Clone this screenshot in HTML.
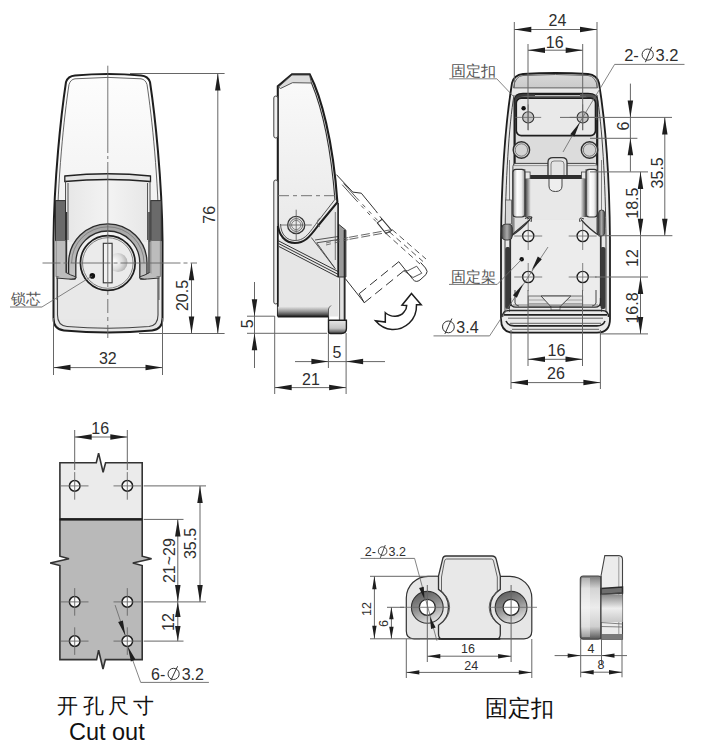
<!DOCTYPE html>
<html><head><meta charset="utf-8"><style>
html,body{margin:0;padding:0;background:#fff;width:704px;height:753px;overflow:hidden}
svg{display:block}
</style></head><body>
<svg width="704" height="753" viewBox="0 0 704 753">
<defs>
<linearGradient id="gBody" x1="0" y1="0" x2="0" y2="1"><stop offset="0" stop-color="#fdfdfd"/><stop offset="0.6" stop-color="#f0f0f0"/><stop offset="1" stop-color="#e6e6e6"/></linearGradient>
<linearGradient id="gPanel" x1="0" y1="0" x2="1" y2="0"><stop offset="0" stop-color="#e6e6e6"/><stop offset="0.5" stop-color="#f3f3f3"/><stop offset="1" stop-color="#e6e6e6"/></linearGradient>
<linearGradient id="gSideH" x1="0" y1="0" x2="0" y2="1"><stop offset="0" stop-color="#fafafa"/><stop offset="1" stop-color="#e8e8e8"/></linearGradient>
<linearGradient id="gDarkV" x1="0" y1="0" x2="0" y2="1"><stop offset="0" stop-color="#e4e4e4"/><stop offset="0.45" stop-color="#9a9a9a"/><stop offset="1" stop-color="#262626"/></linearGradient>
<linearGradient id="gFoot" x1="0" y1="0" x2="0" y2="1"><stop offset="0" stop-color="#e6e6e6"/><stop offset="0.6" stop-color="#c4c4c4"/><stop offset="1" stop-color="#444"/></linearGradient>
<radialGradient id="gBump" cx="0.3" cy="0.45" r="0.75"><stop offset="0" stop-color="#ffffff"/><stop offset="0.55" stop-color="#dedede"/><stop offset="1" stop-color="#a8a8a8"/></radialGradient>
<linearGradient id="gShoe" x1="0" y1="0" x2="0" y2="1"><stop offset="0" stop-color="#a4a4a4"/><stop offset="1" stop-color="#c6c6c6"/></linearGradient>
<linearGradient id="gCyl" x1="0" y1="0" x2="1" y2="0"><stop offset="0" stop-color="#6e6e6e"/><stop offset="0.3" stop-color="#d6d6d6"/><stop offset="0.75" stop-color="#e2e2e2"/><stop offset="1" stop-color="#7a7a7a"/></linearGradient>
<linearGradient id="gCyl2" x1="0" y1="0" x2="1" y2="0"><stop offset="0" stop-color="#5a5a5a"/><stop offset="0.25" stop-color="#cfcfcf"/><stop offset="0.7" stop-color="#dedede"/><stop offset="1" stop-color="#8a8a8a"/></linearGradient>
<linearGradient id="gHinge" x1="0" y1="0" x2="1" y2="0"><stop offset="0" stop-color="#9a9a9a"/><stop offset="0.35" stop-color="#ffffff"/><stop offset="0.7" stop-color="#f0f0f0"/><stop offset="1" stop-color="#9a9a9a"/></linearGradient>
<linearGradient id="gShadowL" x1="0" y1="0" x2="1" y2="0"><stop offset="0" stop-color="#333"/><stop offset="1" stop-color="#e6e6e6"/></linearGradient>
<linearGradient id="gShadowR" x1="1" y1="0" x2="0" y2="0"><stop offset="0" stop-color="#333"/><stop offset="1" stop-color="#e6e6e6"/></linearGradient>
<linearGradient id="gRing" x1="0.3" y1="0" x2="0.7" y2="1"><stop offset="0" stop-color="#5e5e5e"/><stop offset="0.45" stop-color="#8e8e8e"/><stop offset="1" stop-color="#e8e8e8"/></linearGradient>
<linearGradient id="gTop" x1="0" y1="0" x2="0" y2="1"><stop offset="0" stop-color="#d8d8d8"/><stop offset="1" stop-color="#cacaca"/></linearGradient>
<linearGradient id="gWheel" x1="0" y1="0" x2="1" y2="0"><stop offset="0" stop-color="#555"/><stop offset="0.5" stop-color="#aaa"/><stop offset="1" stop-color="#444"/></linearGradient>
<linearGradient id="gCylV" x1="0" y1="0" x2="0" y2="1"><stop offset="0" stop-color="#444" stop-opacity="0.8"/><stop offset="0.1" stop-color="#888" stop-opacity="0.2"/><stop offset="0.85" stop-color="#888" stop-opacity="0.1"/><stop offset="1" stop-color="#333" stop-opacity="0.8"/></linearGradient>
<linearGradient id="gBaseV" x1="0" y1="0" x2="0" y2="1"><stop offset="0" stop-color="#7a7a7a"/><stop offset="0.2" stop-color="#d4d4d4"/><stop offset="0.5" stop-color="#ececec"/><stop offset="0.8" stop-color="#cfcfcf"/><stop offset="1" stop-color="#555"/></linearGradient>
<linearGradient id="gMidV" x1="0" y1="0" x2="0" y2="1"><stop offset="0" stop-color="#8a8a8a"/><stop offset="0.5" stop-color="#eeeeee"/><stop offset="1" stop-color="#c8c8c8"/></linearGradient>
</defs>
<path d="M 66,82 C 61,115 54,180 53.5,240 L 53.5,318 Q 53.5,329.5 64,330.5 Q 108,334.5 152,330.5 Q 162.5,329.5 162.5,318 L 162.5,240 C 162,180 155,115 150,82 Q 148,76 141,75.5 Q 108,72.5 75,75.5 Q 68,76 66,82 Z" fill="url(#gBody)" stroke="#1e1e1e" stroke-width="2.0" />
<path d="M 75,78.8 Q 108,76 141,78.8 Q 145.5,79.5 147,84.5 C 152,117 158.5,180 159,240 L 159,300" fill="none" stroke="#555" stroke-width="0.9" />
<path d="M 75,78.8 Q 70.5,79.5 69,84.5 C 64,117 57.5,180 57,240 L 57,300" fill="none" stroke="#555" stroke-width="0.9" />
<rect x="65.00" y="180.00" width="85.50" height="62.00" rx="0" fill="url(#gPanel)" stroke="none" stroke-width="1" />
<path d="M 64.8,176 Q 108,171.5 150.5,176 L 150.5,181.5 Q 108,177.5 64.8,181.5 Z" fill="#e4e4e4" stroke="#222" stroke-width="1.3" />
<path d="M 65.5,181 L 65.5,242 M 68,183 L 68,240 M 150,181 L 150,242 M 147.5,183 L 147.5,240" fill="none" stroke="#444" stroke-width="0.9" />
<rect x="55.50" y="200.60" width="10.00" height="40.00" rx="0" fill="#6a6a6a" stroke="#2e2e2e" stroke-width="1" />
<rect x="150.80" y="200.60" width="10.50" height="40.00" rx="0" fill="#6a6a6a" stroke="#2e2e2e" stroke-width="1" />
<rect x="56.00" y="240.50" width="9.50" height="36.00" rx="0" fill="#bcbcbc" stroke="#666" stroke-width="0.8" />
<rect x="150.80" y="240.50" width="9.50" height="36.00" rx="0" fill="#bcbcbc" stroke="#666" stroke-width="0.8" />
<line x1="66.50" y1="212.00" x2="66.50" y2="274.00" stroke="#333" stroke-width="1.4" />
<line x1="149.00" y1="212.00" x2="149.00" y2="274.00" stroke="#333" stroke-width="1.4" />
<rect x="57.50" y="277.50" width="100.50" height="42.00" rx="0" fill="#e8e8e8" stroke="none" stroke-width="1" />
<path d="M 57.5,277.5 L 57.5,315 Q 57.5,325.5 67,326.5 Q 108,330 149,326.5 Q 158,325.5 158,315 L 158,277.5" fill="none" stroke="#444" stroke-width="1.1" />
<path d="M 57.5,277.5 L 70,277.5 M 145.5,277.5 L 158,277.5" fill="none" stroke="#666" stroke-width="0.9" />
<path d="M 68.6,277.5 L 68.6,263.0 A 39.2 39.2 0 0 1 147.0,263.0 L 147.0,277.5 Q 147.0,279.0 144.0,279.0 L 140.8,279.0 Q 139.8,279.0 139.8,276.0 L 139.8,263.0 A 32.0 32.0 0 0 0 75.8,263.0 L 75.8,276.0 Q 75.8,279.0 74.8,279.0 L 71.6,279.0 Q 68.6,279.0 68.6,277.5 Z" fill="url(#gShoe)" stroke="#2a2a2a" stroke-width="1.3" />
<path d="M 71.6,263.0 A 36.2 36.2 0 0 1 144.0,263.0" fill="none" stroke="#777" stroke-width="0.8" />
<path d="M 66,272.5 Q 70,275 76.3,277 Q 75,279.5 68,279 L 56.3,278" fill="#bdbdbd" stroke="#333" stroke-width="1" />
<path d="M 149.6,272.5 Q 145.6,275 139.3,277 Q 140.6,279.5 147.6,279 L 159.3,278" fill="#bdbdbd" stroke="#333" stroke-width="1" />
<circle cx="107.80" cy="263.00" r="27.40" fill="#ebebeb" stroke="#1e1e1e" stroke-width="1.7" />
<circle cx="107.80" cy="263.00" r="25.30" fill="none" stroke="#666" stroke-width="0.8" />
<circle cx="118.00" cy="262.50" r="9.50" fill="url(#gBump)" stroke="none" stroke-width="1" />
<rect x="103.30" y="243.30" width="8.80" height="39.50" rx="0" fill="#f2f2f2" stroke="#333" stroke-width="1.1" />
<circle cx="92.30" cy="275.90" r="2.80" fill="#111" stroke="none" stroke-width="1" />
<line x1="107.80" y1="65.70" x2="107.80" y2="153.00" stroke="#666666" stroke-width="0.9" />
<line x1="107.80" y1="156.00" x2="107.80" y2="159.00" stroke="#666666" stroke-width="0.9" />
<line x1="107.80" y1="162.00" x2="107.80" y2="287.00" stroke="#666666" stroke-width="0.9" />
<line x1="107.80" y1="291.00" x2="107.80" y2="338.00" stroke="#666666" stroke-width="0.9" stroke-dasharray="4,4,14,4" />
<line x1="42.50" y1="263.00" x2="197.00" y2="263.00" stroke="#666666" stroke-width="0.9" stroke-dasharray="18,3,4,3,40,3,4,3,60,3,4,3,100" />
<line x1="92.30" y1="275.90" x2="41.90" y2="307.00" stroke="#666666" stroke-width="0.8" />
<line x1="41.90" y1="307.00" x2="10.00" y2="307.00" stroke="#666666" stroke-width="0.9" />
<text x="26.00" y="298.50" font-family="Liberation Serif" font-size="15" fill="#555" text-anchor="middle" dominant-baseline="central" >锁芯</text>
<line x1="130.00" y1="73.50" x2="224.60" y2="73.50" stroke="#666666" stroke-width="1.0" />
<line x1="139.00" y1="333.50" x2="224.60" y2="333.50" stroke="#666666" stroke-width="1.0" />
<line x1="217.80" y1="73.50" x2="217.80" y2="333.50" stroke="#666666" stroke-width="1.0" />
<polygon points="217.80,73.50 220.55,90.50 215.05,90.50" fill="#1e1e1e"/>
<polygon points="217.80,333.50 215.05,316.50 220.55,316.50" fill="#1e1e1e"/>
<text x="209.30" y="214.80" font-family="Liberation Sans" font-size="16" fill="#2e2e2e" text-anchor="middle" dominant-baseline="central" transform="rotate(-90 209.30 214.80)" >76</text>
<line x1="191.50" y1="263.20" x2="191.50" y2="333.50" stroke="#666666" stroke-width="1.0" />
<polygon points="191.50,263.20 194.25,280.20 188.75,280.20" fill="#1e1e1e"/>
<polygon points="191.50,333.50 188.75,316.50 194.25,316.50" fill="#1e1e1e"/>
<text x="182.00" y="295.50" font-family="Liberation Sans" font-size="16" fill="#2e2e2e" text-anchor="middle" dominant-baseline="central" transform="rotate(-90 182.00 295.50)" >20.5</text>
<line x1="53.50" y1="318.00" x2="53.50" y2="375.00" stroke="#666666" stroke-width="1.0" />
<line x1="162.50" y1="318.00" x2="162.50" y2="375.00" stroke="#666666" stroke-width="1.0" />
<line x1="53.50" y1="367.60" x2="162.50" y2="367.60" stroke="#666666" stroke-width="1.0" />
<polygon points="53.50,367.60 70.50,364.85 70.50,370.35" fill="#1e1e1e"/>
<polygon points="162.50,367.60 145.50,370.35 145.50,364.85" fill="#1e1e1e"/>
<text x="107.80" y="358.50" font-family="Liberation Sans" font-size="16" fill="#2e2e2e" text-anchor="middle" dominant-baseline="central" >32</text>
<path d="M 277.8,240 L 338.1,203 L 338.1,316.5 L 277.8,316.5 Z" fill="#e6e6e6" stroke="none" stroke-width="0" />
<path d="M 277.8,222 L 277.8,86.3 L 292,74.2 L 309.7,74.2 C 321,96 333,140 337.4,202.2 L 317.8,226 C 309,238 304,243 295,243 C 286,243 277.8,236 277.8,222 Z" fill="url(#gSideH)" stroke="#1e1e1e" stroke-width="2.1" />
<path d="M 278.5,87 L 292,75 L 309.5,75 L 311.5,83 L 292.5,82.7 L 280.5,88.5 Z" fill="#dcdcdc" stroke="#444" stroke-width="0.9" />
<path d="M 311.5,83 C 322,108 331,150 335,200" fill="none" stroke="#333" stroke-width="1.1" />
<path d="M 280.5,224 C 281,235 287,240.5 295,240.5 C 303,240.5 307.5,236 315.5,224.5 L 334.5,200" fill="none" stroke="#444" stroke-width="0.9" />
<rect x="273.80" y="96.00" width="4.00" height="42.00" rx="2" fill="#efefef" stroke="#444" stroke-width="1" />
<rect x="273.80" y="180.00" width="4.00" height="124.00" rx="2" fill="#efefef" stroke="#444" stroke-width="1" />
<line x1="278.00" y1="195.70" x2="337.00" y2="195.70" stroke="#666666" stroke-width="0.9" stroke-dasharray="11,4,4,4" />
<circle cx="296.20" cy="225.00" r="8.60" fill="none" stroke="#333" stroke-width="1.3" />
<circle cx="296.20" cy="225.00" r="6.40" fill="none" stroke="#555" stroke-width="0.9" />
<circle cx="296.20" cy="225.00" r="4.60" fill="none" stroke="#666" stroke-width="0.8" />
<line x1="280.60" y1="225.00" x2="311.80" y2="225.00" stroke="#666666" stroke-width="0.9" />
<line x1="296.20" y1="209.70" x2="296.20" y2="240.90" stroke="#666666" stroke-width="0.9" />
<path d="M 320,218 A 5 5 0 0 0 320,227" fill="none" stroke="#666" stroke-width="0.8" />
<line x1="277.80" y1="226.00" x2="277.80" y2="316.50" stroke="#1e1e1e" stroke-width="1.7" />
<path d="M 277.8,240.5 L 340.6,272.8 M 278.5,243.5 L 340.6,275.6 M 279,246.5 L 340.6,278.4" fill="none" stroke="#333" stroke-width="1.0" />
<path d="M 311.3,237.5 L 335.2,268.6 M 316.7,242.8 L 335.2,268.6 M 316.7,242.8 L 345,238.5 M 315,240 L 345,235.5" fill="none" stroke="#444" stroke-width="0.9" />
<rect x="277.80" y="306.70" width="51.00" height="10.00" rx="0" fill="url(#gDarkV)" stroke="none" stroke-width="1" />
<path d="M 328.5,316.6 L 328.5,309 Q 329,307 331,305.5" fill="none" stroke="#555" stroke-width="0.9" />
<line x1="277.80" y1="316.60" x2="328.50" y2="316.60" stroke="#1e1e1e" stroke-width="1.8" />
<rect x="338.50" y="277.00" width="7.50" height="45.00" rx="0" fill="#e2e2e2" stroke="none" stroke-width="1" />
<path d="M 338.5,224.2 L 345.9,230.2 L 345.9,277 L 338.5,277 Z" fill="#9a9a9a" stroke="#333" stroke-width="1" stroke-linejoin="miter"/>
<path d="M 338.1,203 L 338.1,277" fill="none" stroke="#1e1e1e" stroke-width="1.6" />
<line x1="339.60" y1="277.00" x2="339.60" y2="320.00" stroke="#555" stroke-width="0.9" />
<line x1="344.60" y1="230.00" x2="344.60" y2="322.00" stroke="#2a2a2a" stroke-width="1.8" />
<line x1="335.30" y1="212.00" x2="335.30" y2="260.00" stroke="#555" stroke-width="0.8" />
<path d="M 328.5,320.2 L 346.4,320.2 L 346.4,328.5 Q 346.4,333.5 341.4,333.5 L 330.5,333.5 Q 328.5,333.5 328.5,331.5 Z" fill="url(#gFoot)" stroke="#1e1e1e" stroke-width="1.4" />
<line x1="328.50" y1="316.60" x2="328.50" y2="320.20" stroke="#333" stroke-width="1.2" />
<path d="M 336.4,174.6 L 352.8,192.1 L 361.3,193.2 L 375.7,210.7" fill="none" stroke="#333" stroke-width="1" />
<line x1="375.70" y1="210.70" x2="382.00" y2="219.20" stroke="#333" stroke-width="1" stroke-dasharray="3,4,4,3" />
<path d="M 342.2,184.7 L 355,199 M 343.6,183.4 L 356.4,197.7" fill="none" stroke="#444" stroke-width="0.9" />
<path d="M 355,199 L 377.3,222.9 M 356.4,197.7 L 378.7,221.6" fill="none" stroke="#444" stroke-width="0.9" stroke-dasharray="4,5"/>
<path d="M 377.3,222.9 L 382.1,219.2 L 391.6,230.4 L 386,233.5 Z" fill="none" stroke="#333" stroke-width="1.1" />
<path d="M 349.1,237.3 L 390.6,229.8 M 349.5,239.3 L 391,231.8" fill="none" stroke="#555" stroke-width="0.9" stroke-dasharray="9,3"/>
<path d="M 326,243 L 349.1,237.3 M 326,245 L 349.5,239.3" fill="none" stroke="#555" stroke-width="0.8" stroke-dasharray="5,4"/>
<path d="M 386,233.5 L 420,264 M 389,231.5 L 423,261.5 M 392,229.5 L 426,259" fill="none" stroke="#444" stroke-width="0.9" stroke-dasharray="6,4"/>
<path d="M 345.1,278.4 L 364.3,302.7 L 359.2,293.7" fill="none" stroke="#333" stroke-width="1" />
<path d="M 359.2,293.7 L 398.8,261.7 M 364.3,302.7 L 404,270.7" fill="none" stroke="#333" stroke-width="1" stroke-dasharray="9,5"/>
<path d="M 398.8,261.7 L 413,279.5 Q 416,283 420,280 L 426,274.5 Q 428.5,271.5 425.5,268 L 420.6,262.5" fill="none" stroke="#333" stroke-width="1" />
<path d="M 404,270.7 L 407.8,270.7 L 416.7,266.2 L 421.8,273.2 L 413,277.5 Z" fill="none" stroke="#444" stroke-width="0.9" />
<path d="M 411.5,293.5 L 421.2,304.8 L 416.5,304.8 C 417,320 405,330 392,329.5 C 385,329 379,325 375.5,320.8 L 385.3,322.1 L 385.3,312.7 C 391,317.5 400,317.5 404,312 C 406,310 406.7,307 406.7,305.5 L 402,305.2 Z" fill="#fff" stroke="#1e1e1e" stroke-width="1.5" />
<line x1="247.00" y1="316.20" x2="274.70" y2="316.20" stroke="#666666" stroke-width="1.0" />
<line x1="247.00" y1="333.30" x2="327.00" y2="333.30" stroke="#666666" stroke-width="1.0" />
<line x1="254.50" y1="282.00" x2="254.50" y2="368.00" stroke="#666666" stroke-width="1.0" />
<polygon points="254.50,316.20 251.75,299.20 257.25,299.20" fill="#1e1e1e"/>
<polygon points="254.50,333.30 257.25,350.30 251.75,350.30" fill="#1e1e1e"/>
<text x="247.30" y="323.70" font-family="Liberation Sans" font-size="16" fill="#2e2e2e" text-anchor="middle" dominant-baseline="central" transform="rotate(-90 247.30 323.70)" >5</text>
<line x1="328.40" y1="333.00" x2="328.40" y2="368.00" stroke="#666666" stroke-width="1.0" />
<line x1="346.10" y1="333.00" x2="346.10" y2="394.00" stroke="#666666" stroke-width="1.0" />
<line x1="295.00" y1="361.60" x2="385.00" y2="361.60" stroke="#666666" stroke-width="1.0" />
<polygon points="328.40,361.60 311.40,364.35 311.40,358.85" fill="#1e1e1e"/>
<polygon points="346.10,361.60 363.10,358.85 363.10,364.35" fill="#1e1e1e"/>
<text x="337.00" y="352.50" font-family="Liberation Sans" font-size="16" fill="#2e2e2e" text-anchor="middle" dominant-baseline="central" >5</text>
<line x1="274.70" y1="316.00" x2="274.70" y2="394.00" stroke="#666666" stroke-width="1.0" />
<line x1="274.70" y1="387.60" x2="346.10" y2="387.60" stroke="#666666" stroke-width="1.0" />
<polygon points="274.70,387.60 291.70,384.85 291.70,390.35" fill="#1e1e1e"/>
<polygon points="346.10,387.60 329.10,390.35 329.10,384.85" fill="#1e1e1e"/>
<text x="311.00" y="379.00" font-family="Liberation Sans" font-size="16" fill="#2e2e2e" text-anchor="middle" dominant-baseline="central" >21</text>
<path d="M 512,83 C 506,120 501.5,180 501,240 L 501,319 Q 501,332.7 514,332.7 L 597,332.7 Q 610,332.7 610,319 L 610,240 C 609.5,180 605,120 599,83 Q 597,75 588,74 Q 555.5,72 523,74 Q 514,75 512,83 Z" fill="#e9e9e9" stroke="#1e1e1e" stroke-width="1.8" />
<path d="M 513.5,87.9 Q 515,76 523,75.5 Q 555.5,73.5 588,75.5 Q 596,76 597.5,87.9 Z" fill="url(#gTop)" stroke="#555" stroke-width="0.9" />
<path d="M 514,95 C 509,125 505.5,180 505,240 L 505,312" fill="none" stroke="#444" stroke-width="1" />
<path d="M 597,95 C 602,125 605.5,180 606,240 L 606,312" fill="none" stroke="#444" stroke-width="1" />
<path d="M 509.5,160 L 509.5,312 M 601.5,160 L 601.5,312" fill="none" stroke="#666" stroke-width="0.8" />
<path d="M 514.6,240 L 514.6,101 Q 514.6,93.9 523,93.9 L 588,93.9 Q 597.2,93.9 597.2,101 L 597.2,240" fill="#dcdcdc" stroke="#1e1e1e" stroke-width="2.2" />
<path d="M 514.6,120 L 514.6,101 Q 514.6,93.9 523,93.9 L 535,93.9 L 535,97 Q 520,97 517.5,104 L 517.5,120 Z" fill="#3a3a3a" stroke="none" stroke-width="0" />
<path d="M 597.2,120 L 597.2,101 Q 597.2,93.9 589,93.9 L 580,93.9 L 580,96.5 Q 593,97 594.5,104 L 594.5,120 Z" fill="#555" stroke="none" stroke-width="0" />
<path d="M 517,100 Q 520,96.5 528,96.5 L 586,96.5" fill="none" stroke="#666" stroke-width="1.6" />
<rect x="516.30" y="98.10" width="79.20" height="37.50" rx="5" fill="#e9e9e9" stroke="#1e1e1e" stroke-width="1.6" />
<circle cx="528.20" cy="117.40" r="5.60" fill="#c6c6c6" stroke="#333" stroke-width="1.1" />
<line x1="515.20" y1="117.40" x2="541.20" y2="117.40" stroke="#666666" stroke-width="0.8" />
<line x1="528.20" y1="104.40" x2="528.20" y2="130.40" stroke="#666666" stroke-width="0.8" />
<circle cx="582.70" cy="117.40" r="5.60" fill="#c6c6c6" stroke="#333" stroke-width="1.1" />
<line x1="569.70" y1="117.40" x2="595.70" y2="117.40" stroke="#666666" stroke-width="0.8" />
<line x1="582.70" y1="104.40" x2="582.70" y2="130.40" stroke="#666666" stroke-width="0.8" />
<circle cx="523.60" cy="108.30" r="2.20" fill="#111" stroke="none" stroke-width="1" />
<circle cx="521.40" cy="150.00" r="8.20" fill="#d4d4d4" stroke="#2e2e2e" stroke-width="1.4" />
<circle cx="521.40" cy="150.00" r="6.20" fill="none" stroke="#666" stroke-width="0.8" />
<circle cx="589.50" cy="150.00" r="8.20" fill="#d4d4d4" stroke="#2e2e2e" stroke-width="1.4" />
<circle cx="589.50" cy="150.00" r="6.20" fill="none" stroke="#666" stroke-width="0.8" />
<rect x="512.90" y="163.40" width="84.30" height="80.00" rx="3" fill="#e2e2e2" stroke="#444" stroke-width="1" />
<line x1="514.00" y1="165.60" x2="596.00" y2="165.60" stroke="#777" stroke-width="0.7" />
<path d="M 548,176 L 548,162 Q 548,157.7 553,157.7 L 562,157.7 Q 567,157.7 567,162 L 567,176" fill="#e4e4e4" stroke="#333" stroke-width="1.3" />
<path d="M 551,176 L 551,164 Q 551,161 554,161 L 561,161 Q 564,161 564,164 L 564,176" fill="none" stroke="#666" stroke-width="0.8" />
<rect x="527.00" y="175.00" width="58.00" height="4.00" rx="0" fill="#2e2e2e" stroke="none" stroke-width="1" />
<rect x="524.60" y="172.00" width="5.50" height="7.00" rx="0" fill="#e8e8e8" stroke="#444" stroke-width="0.8" />
<rect x="581.50" y="172.00" width="5.50" height="7.00" rx="0" fill="#e8e8e8" stroke="#444" stroke-width="0.8" />
<rect x="530.00" y="179.00" width="52.00" height="40.00" rx="0" fill="#e8e8e8" stroke="none" stroke-width="1" />
<rect x="524.80" y="179.00" width="6.00" height="38.00" rx="0" fill="url(#gShadowL)" stroke="none" stroke-width="1" />
<rect x="580.80" y="179.00" width="6.00" height="38.00" rx="0" fill="url(#gShadowR)" stroke="none" stroke-width="1" />
<path d="M 549,179 L 549,186 Q 549,191.5 555.5,191.5 Q 562,191.5 562,186 L 562,179" fill="#eeeeee" stroke="#444" stroke-width="1" />
<rect x="512.90" y="169.40" width="12.00" height="47.60" rx="3" fill="url(#gHinge)" stroke="#333" stroke-width="1.2" />
<rect x="586.10" y="169.40" width="11.20" height="47.60" rx="3" fill="url(#gHinge)" stroke="#333" stroke-width="1.2" />
<line x1="524.80" y1="169.00" x2="524.80" y2="217.00" stroke="#555" stroke-width="1" />
<line x1="586.10" y1="169.00" x2="586.10" y2="217.00" stroke="#555" stroke-width="1" />
<path d="M 510.5,300 L 510.5,236 L 531.2,218.4 Q 533,216.5 529,216.8 L 525,218.5 M 510.5,236 L 510.5,236" fill="none" stroke="#333" stroke-width="1.2" />
<path d="M 510.5,306 L 510.5,236.5 Q 522,229 530,219.5 L 581,219.5 Q 589,229 600.5,236.5 L 600.5,306 Z" fill="#ececec" stroke="none" stroke-width="0" />
<path d="M 510.5,306 L 510.5,236.5 Q 522,229 530,219.5 M 581,219.5 Q 589,229 600.5,236.5 L 600.5,306" fill="none" stroke="#333" stroke-width="1.2" />
<path d="M 527,219 Q 533,216 531,222 M 584,219 Q 578,216 580,222" fill="none" stroke="#333" stroke-width="1" />
<line x1="514.00" y1="232.00" x2="514.00" y2="218.00" stroke="#666" stroke-width="0.8" />
<line x1="597.00" y1="232.00" x2="597.00" y2="218.00" stroke="#666" stroke-width="0.8" />
<circle cx="528.20" cy="236.00" r="5.60" fill="#f4f4f4" stroke="#1e1e1e" stroke-width="1.4" />
<line x1="514.20" y1="236.00" x2="542.20" y2="236.00" stroke="#666666" stroke-width="0.8" />
<line x1="528.20" y1="222.00" x2="528.20" y2="250.00" stroke="#666666" stroke-width="0.8" />
<circle cx="528.20" cy="277.00" r="5.60" fill="#f4f4f4" stroke="#1e1e1e" stroke-width="1.4" />
<line x1="514.20" y1="277.00" x2="542.20" y2="277.00" stroke="#666666" stroke-width="0.8" />
<line x1="528.20" y1="263.00" x2="528.20" y2="291.00" stroke="#666666" stroke-width="0.8" />
<circle cx="582.70" cy="236.00" r="5.60" fill="#f4f4f4" stroke="#1e1e1e" stroke-width="1.4" />
<line x1="568.70" y1="236.00" x2="596.70" y2="236.00" stroke="#666666" stroke-width="0.8" />
<line x1="582.70" y1="222.00" x2="582.70" y2="250.00" stroke="#666666" stroke-width="0.8" />
<circle cx="582.70" cy="277.00" r="5.60" fill="#f4f4f4" stroke="#1e1e1e" stroke-width="1.4" />
<line x1="568.70" y1="277.00" x2="596.70" y2="277.00" stroke="#666666" stroke-width="0.8" />
<line x1="582.70" y1="263.00" x2="582.70" y2="291.00" stroke="#666666" stroke-width="0.8" />
<circle cx="521.70" cy="259.30" r="2.20" fill="#111" stroke="none" stroke-width="1" />
<rect x="501.80" y="224.00" width="10.50" height="16.00" rx="4" fill="url(#gWheel)" stroke="#333" stroke-width="0.9" />
<rect x="598.60" y="210.00" width="6.00" height="26.00" rx="3" fill="url(#gWheel)" stroke="#333" stroke-width="0.9" />
<rect x="505.50" y="200.00" width="6.00" height="24.00" rx="0" fill="#d8d8d8" stroke="#555" stroke-width="0.8" />
<rect x="505.20" y="247.00" width="5.00" height="62.00" rx="2" fill="#3a3a3a" stroke="none" stroke-width="1" />
<rect x="600.50" y="247.00" width="5.00" height="62.00" rx="2" fill="#3a3a3a" stroke="none" stroke-width="1" />
<path d="M 515,290 L 515,303 Q 516,306 519,306" fill="none" stroke="#444" stroke-width="1" />
<path d="M 596,290 L 596,303 Q 595,306 592,306" fill="none" stroke="#444" stroke-width="1" />
<rect x="528.20" y="296.00" width="54.50" height="11.00" rx="0" fill="#e2e2e2" stroke="#555" stroke-width="0.8" />
<line x1="528.20" y1="300.00" x2="582.70" y2="300.00" stroke="#888" stroke-width="0.7" />
<line x1="528.20" y1="303.50" x2="582.70" y2="303.50" stroke="#888" stroke-width="0.7" />
<path d="M 541,296 L 551.2,307 L 559.7,307 L 570.8,296 Z" fill="#ececec" stroke="#444" stroke-width="1" />
<rect x="551.00" y="306.00" width="9.00" height="4.00" rx="0" fill="#eee" stroke="#555" stroke-width="0.7" />
<path d="M 510.5,298 L 510.5,302 Q 510.5,307.1 516,307.1 L 595,307.1 Q 600.5,307.1 600.5,302 L 600.5,298" fill="none" stroke="#2a2a2a" stroke-width="1.3" />
<line x1="513.00" y1="305.00" x2="598.00" y2="305.00" stroke="#666" stroke-width="0.8" />
<path d="M 502.5,317 Q 502.5,310.5 509,310.5 L 602,310.5 Q 608.5,310.5 608.5,317" fill="none" stroke="#2a2a2a" stroke-width="1.4" />
<line x1="504.00" y1="314.80" x2="607.00" y2="314.80" stroke="#222" stroke-width="1.7" />
<line x1="508.00" y1="318.20" x2="603.00" y2="318.20" stroke="#555" stroke-width="0.9" />
<line x1="510.00" y1="323.30" x2="601.00" y2="323.30" stroke="#555" stroke-width="0.9" />
<path d="M 506,321 Q 508,325.9 514,325.9 L 597,325.9 Q 603,325.9 605,321" fill="none" stroke="#222" stroke-width="1.6" />
<line x1="512.00" y1="329.30" x2="599.00" y2="329.30" stroke="#555" stroke-width="0.9" />
<line x1="614.60" y1="64.40" x2="684.50" y2="64.40" stroke="#666666" stroke-width="0.9" />
<line x1="614.60" y1="64.40" x2="582.70" y2="117.40" stroke="#666666" stroke-width="0.8" />
<line x1="582.70" y1="117.40" x2="563.00" y2="152.00" stroke="#666666" stroke-width="0.8" />
<polygon points="579.80,122.40 574.41,136.60 570.24,134.21" fill="#1e1e1e"/>
<text x="624.20" y="54.80" font-family="Liberation Sans" font-size="16.5" fill="#2e2e2e" text-anchor="start" dominant-baseline="central" >2-</text>
<circle cx="647.70" cy="54.60" r="5.60" fill="none" stroke="#333" stroke-width="1.0" />
<line x1="645.40" y1="62.20" x2="651.70" y2="46.80" stroke="#333" stroke-width="1.0" />
<text x="655.60" y="54.80" font-family="Liberation Sans" font-size="16.5" fill="#2e2e2e" text-anchor="start" dominant-baseline="central" >3.2</text>
<line x1="449.20" y1="78.80" x2="496.80" y2="78.80" stroke="#666666" stroke-width="0.8" />
<line x1="496.80" y1="78.80" x2="513.90" y2="96.90" stroke="#666666" stroke-width="0.8" />
<text x="473.40" y="71.20" font-family="Liberation Serif" font-size="15" fill="#555" text-anchor="middle" dominant-baseline="central" >固定扣</text>
<line x1="449.00" y1="284.40" x2="497.20" y2="284.40" stroke="#666666" stroke-width="0.9" />
<line x1="497.20" y1="284.40" x2="521.70" y2="259.30" stroke="#666666" stroke-width="0.8" />
<text x="473.30" y="277.00" font-family="Liberation Serif" font-size="15" fill="#555" text-anchor="middle" dominant-baseline="central" >固定架</text>
<line x1="433.50" y1="335.90" x2="489.60" y2="335.90" stroke="#666666" stroke-width="0.9" />
<line x1="489.60" y1="335.90" x2="528.20" y2="277.00" stroke="#666666" stroke-width="0.8" />
<line x1="528.20" y1="277.00" x2="548.00" y2="247.00" stroke="#666666" stroke-width="0.8" />
<polygon points="523.10,284.00 516.89,297.86 512.88,295.23" fill="#1e1e1e"/>
<polygon points="531.60,270.40 537.81,256.54 541.82,259.17" fill="#1e1e1e"/>
<circle cx="448.40" cy="326.90" r="5.90" fill="none" stroke="#333" stroke-width="1.0" />
<line x1="444.90" y1="333.90" x2="451.90" y2="318.50" stroke="#333" stroke-width="1.0" />
<text x="456.30" y="327.20" font-family="Liberation Sans" font-size="16" fill="#2e2e2e" text-anchor="start" dominant-baseline="central" >3.4</text>
<line x1="514.30" y1="22.00" x2="514.30" y2="88.00" stroke="#666666" stroke-width="1.0" />
<line x1="597.00" y1="22.00" x2="597.00" y2="88.00" stroke="#666666" stroke-width="1.0" />
<line x1="514.30" y1="29.50" x2="597.00" y2="29.50" stroke="#666666" stroke-width="1.0" />
<polygon points="514.30,29.50 531.30,26.75 531.30,32.25" fill="#1e1e1e"/>
<polygon points="597.00,29.50 580.00,32.25 580.00,26.75" fill="#1e1e1e"/>
<text x="557.50" y="20.70" font-family="Liberation Sans" font-size="16" fill="#2e2e2e" text-anchor="middle" dominant-baseline="central" >24</text>
<line x1="528.00" y1="44.00" x2="528.00" y2="130.00" stroke="#666666" stroke-width="1.0" />
<line x1="582.70" y1="44.00" x2="582.70" y2="130.00" stroke="#666666" stroke-width="1.0" />
<line x1="528.00" y1="50.20" x2="582.70" y2="50.20" stroke="#666666" stroke-width="1.0" />
<polygon points="528.00,50.20 545.00,47.45 545.00,52.95" fill="#1e1e1e"/>
<polygon points="582.70,50.20 565.70,52.95 565.70,47.45" fill="#1e1e1e"/>
<text x="554.70" y="42.50" font-family="Liberation Sans" font-size="16" fill="#2e2e2e" text-anchor="middle" dominant-baseline="central" >16</text>
<line x1="560.00" y1="117.40" x2="672.00" y2="117.40" stroke="#666666" stroke-width="1.0" />
<line x1="590.00" y1="138.30" x2="637.40" y2="138.30" stroke="#666666" stroke-width="1.0" />
<line x1="630.40" y1="83.60" x2="630.40" y2="171.70" stroke="#666666" stroke-width="1.0" />
<polygon points="630.40,117.40 627.65,100.40 633.15,100.40" fill="#1e1e1e"/>
<polygon points="630.40,138.30 633.15,155.30 627.65,155.30" fill="#1e1e1e"/>
<text x="623.70" y="126.00" font-family="Liberation Sans" font-size="16" fill="#2e2e2e" text-anchor="middle" dominant-baseline="central" transform="rotate(-90 623.70 126.00)" >6</text>
<line x1="664.80" y1="117.40" x2="664.80" y2="235.70" stroke="#666666" stroke-width="1.0" />
<polygon points="664.80,117.40 667.55,134.40 662.05,134.40" fill="#1e1e1e"/>
<polygon points="664.80,235.70 662.05,218.70 667.55,218.70" fill="#1e1e1e"/>
<text x="658.00" y="172.80" font-family="Liberation Sans" font-size="16" fill="#2e2e2e" text-anchor="middle" dominant-baseline="central" transform="rotate(-90 658.00 172.80)" >35.5</text>
<line x1="590.00" y1="171.90" x2="648.00" y2="171.90" stroke="#666666" stroke-width="1.0" />
<line x1="598.00" y1="235.70" x2="672.40" y2="235.70" stroke="#666666" stroke-width="1.0" />
<line x1="595.00" y1="277.00" x2="648.00" y2="277.00" stroke="#666666" stroke-width="1.0" />
<line x1="600.00" y1="333.90" x2="648.00" y2="333.90" stroke="#666666" stroke-width="1.0" />
<line x1="640.50" y1="171.90" x2="640.50" y2="235.70" stroke="#666666" stroke-width="1.0" />
<polygon points="640.50,171.90 643.25,188.90 637.75,188.90" fill="#1e1e1e"/>
<polygon points="640.50,235.70 637.75,218.70 643.25,218.70" fill="#1e1e1e"/>
<text x="632.90" y="203.20" font-family="Liberation Sans" font-size="16" fill="#2e2e2e" text-anchor="middle" dominant-baseline="central" transform="rotate(-90 632.90 203.20)" >18.5</text>
<line x1="640.50" y1="235.70" x2="640.50" y2="277.00" stroke="#666666" stroke-width="1.0" />
<text x="632.90" y="258.00" font-family="Liberation Sans" font-size="16" fill="#2e2e2e" text-anchor="middle" dominant-baseline="central" transform="rotate(-90 632.90 258.00)" >12</text>
<line x1="640.50" y1="277.00" x2="640.50" y2="333.90" stroke="#666666" stroke-width="1.0" />
<polygon points="640.50,277.00 643.25,294.00 637.75,294.00" fill="#1e1e1e"/>
<polygon points="640.50,333.90 637.75,316.90 643.25,316.90" fill="#1e1e1e"/>
<text x="632.90" y="308.00" font-family="Liberation Sans" font-size="16" fill="#2e2e2e" text-anchor="middle" dominant-baseline="central" transform="rotate(-90 632.90 308.00)" >16.8</text>
<line x1="528.00" y1="290.00" x2="528.00" y2="366.00" stroke="#666666" stroke-width="1.0" />
<line x1="582.50" y1="290.00" x2="582.50" y2="366.00" stroke="#666666" stroke-width="1.0" />
<line x1="528.00" y1="359.30" x2="582.50" y2="359.30" stroke="#666666" stroke-width="1.0" />
<polygon points="528.00,359.30 545.00,356.55 545.00,362.05" fill="#1e1e1e"/>
<polygon points="582.50,359.30 565.50,362.05 565.50,356.55" fill="#1e1e1e"/>
<text x="556.40" y="350.80" font-family="Liberation Sans" font-size="16" fill="#2e2e2e" text-anchor="middle" dominant-baseline="central" >16</text>
<line x1="511.00" y1="330.00" x2="511.00" y2="389.00" stroke="#666666" stroke-width="1.0" />
<line x1="600.40" y1="330.00" x2="600.40" y2="389.00" stroke="#666666" stroke-width="1.0" />
<line x1="511.00" y1="382.60" x2="600.40" y2="382.60" stroke="#666666" stroke-width="1.0" />
<polygon points="511.00,382.60 528.00,379.85 528.00,385.35" fill="#1e1e1e"/>
<polygon points="600.40,382.60 583.40,385.35 583.40,379.85" fill="#1e1e1e"/>
<text x="556.00" y="373.50" font-family="Liberation Sans" font-size="16" fill="#2e2e2e" text-anchor="middle" dominant-baseline="central" >26</text>
<path d="M 59.9,462.7 L 96.3,462.7 L 98.6,453.1 L 103.1,472.3 L 105.6,462.7 L 142.2,462.7 L 142.2,519.4 L 59.9,519.4 Z" fill="#ebebeb" stroke="#333" stroke-width="1.6" />
<path d="M 59.9,519.4 L 142.2,519.4 L 142.2,556.2 L 151.6,558.7 L 132.8,563 L 142.2,565.6 L 142.2,659.6 L 105.4,659.6 L 103,669 L 98.6,650.2 L 96.6,659.6 L 59.9,659.6 L 59.9,565.6 L 50.2,563 L 69,558.7 L 59.9,556.2 Z" fill="#b9b9b9" stroke="#333" stroke-width="1.6" />
<line x1="59.90" y1="519.40" x2="142.20" y2="519.40" stroke="#1e1e1e" stroke-width="2.2" />
<circle cx="74.70" cy="485.90" r="5.30" fill="#fafafa" stroke="#1e1e1e" stroke-width="1.5" />
<line x1="60.90" y1="485.90" x2="88.50" y2="485.90" stroke="#666666" stroke-width="0.9" />
<line x1="74.70" y1="472.10" x2="74.70" y2="499.70" stroke="#666666" stroke-width="0.9" />
<circle cx="74.70" cy="601.90" r="5.30" fill="#fafafa" stroke="#1e1e1e" stroke-width="1.5" />
<line x1="60.90" y1="601.90" x2="88.50" y2="601.90" stroke="#666666" stroke-width="0.9" />
<line x1="74.70" y1="588.10" x2="74.70" y2="615.70" stroke="#666666" stroke-width="0.9" />
<circle cx="74.70" cy="641.10" r="5.30" fill="#fafafa" stroke="#1e1e1e" stroke-width="1.5" />
<line x1="60.90" y1="641.10" x2="88.50" y2="641.10" stroke="#666666" stroke-width="0.9" />
<line x1="74.70" y1="627.30" x2="74.70" y2="654.90" stroke="#666666" stroke-width="0.9" />
<circle cx="127.30" cy="485.90" r="5.30" fill="#fafafa" stroke="#1e1e1e" stroke-width="1.5" />
<line x1="113.50" y1="485.90" x2="141.10" y2="485.90" stroke="#666666" stroke-width="0.9" />
<line x1="127.30" y1="472.10" x2="127.30" y2="499.70" stroke="#666666" stroke-width="0.9" />
<circle cx="127.30" cy="601.90" r="5.30" fill="#fafafa" stroke="#1e1e1e" stroke-width="1.5" />
<line x1="113.50" y1="601.90" x2="141.10" y2="601.90" stroke="#666666" stroke-width="0.9" />
<line x1="127.30" y1="588.10" x2="127.30" y2="615.70" stroke="#666666" stroke-width="0.9" />
<circle cx="127.30" cy="641.10" r="5.30" fill="#fafafa" stroke="#1e1e1e" stroke-width="1.5" />
<line x1="113.50" y1="641.10" x2="141.10" y2="641.10" stroke="#666666" stroke-width="0.9" />
<line x1="127.30" y1="627.30" x2="127.30" y2="654.90" stroke="#666666" stroke-width="0.9" />
<line x1="74.70" y1="430.00" x2="74.70" y2="470.00" stroke="#666666" stroke-width="1.0" />
<line x1="127.30" y1="430.00" x2="127.30" y2="470.00" stroke="#666666" stroke-width="1.0" />
<line x1="74.70" y1="437.00" x2="127.30" y2="437.00" stroke="#666666" stroke-width="1.0" />
<polygon points="74.70,437.00 91.70,434.25 91.70,439.75" fill="#1e1e1e"/>
<polygon points="127.30,437.00 110.30,439.75 110.30,434.25" fill="#1e1e1e"/>
<text x="100.20" y="428.50" font-family="Liberation Sans" font-size="16" fill="#2e2e2e" text-anchor="middle" dominant-baseline="central" >16</text>
<line x1="143.70" y1="485.90" x2="206.00" y2="485.90" stroke="#666666" stroke-width="1.0" />
<line x1="143.70" y1="519.40" x2="183.50" y2="519.40" stroke="#666666" stroke-width="1.0" />
<line x1="143.70" y1="601.90" x2="206.00" y2="601.90" stroke="#666666" stroke-width="1.0" />
<line x1="143.70" y1="641.10" x2="183.50" y2="641.10" stroke="#666666" stroke-width="1.0" />
<line x1="200.00" y1="485.90" x2="200.00" y2="601.90" stroke="#666666" stroke-width="1.0" />
<polygon points="200.00,485.90 202.75,502.90 197.25,502.90" fill="#1e1e1e"/>
<polygon points="200.00,601.90 197.25,584.90 202.75,584.90" fill="#1e1e1e"/>
<text x="190.60" y="543.50" font-family="Liberation Sans" font-size="16" fill="#2e2e2e" text-anchor="middle" dominant-baseline="central" transform="rotate(-90 190.60 543.50)" >35.5</text>
<line x1="177.80" y1="519.40" x2="177.80" y2="601.90" stroke="#666666" stroke-width="1.0" />
<polygon points="177.80,519.40 180.55,536.40 175.05,536.40" fill="#1e1e1e"/>
<polygon points="177.80,601.90 175.05,584.90 180.55,584.90" fill="#1e1e1e"/>
<text x="169.20" y="560.60" font-family="Liberation Sans" font-size="16" fill="#2e2e2e" text-anchor="middle" dominant-baseline="central" transform="rotate(-90 169.20 560.60)" >21~29</text>
<line x1="177.80" y1="601.90" x2="177.80" y2="641.10" stroke="#666666" stroke-width="1.0" />
<polygon points="177.80,601.90 180.55,616.90 175.05,616.90" fill="#1e1e1e"/>
<polygon points="177.80,641.10 175.05,626.10 180.55,626.10" fill="#1e1e1e"/>
<text x="168.80" y="622.00" font-family="Liberation Sans" font-size="16" fill="#2e2e2e" text-anchor="middle" dominant-baseline="central" transform="rotate(-90 168.80 622.00)" >12</text>
<line x1="140.70" y1="682.40" x2="208.90" y2="682.40" stroke="#666666" stroke-width="0.9" />
<line x1="140.70" y1="682.40" x2="127.80" y2="646.50" stroke="#666666" stroke-width="0.8" />
<line x1="115.10" y1="605.10" x2="125.30" y2="635.40" stroke="#666666" stroke-width="0.8" />
<polygon points="127.80,646.50 135.55,659.59 130.88,661.39" fill="#1e1e1e"/>
<polygon points="125.30,635.40 118.14,621.98 122.88,620.39" fill="#1e1e1e"/>
<text x="151.00" y="674.00" font-family="Liberation Sans" font-size="16" fill="#2e2e2e" text-anchor="start" dominant-baseline="central" >6-</text>
<circle cx="173.60" cy="673.90" r="5.60" fill="none" stroke="#333" stroke-width="1.0" />
<line x1="170.80" y1="680.50" x2="177.60" y2="666.30" stroke="#333" stroke-width="1.0" />
<text x="181.70" y="674.00" font-family="Liberation Sans" font-size="16" fill="#2e2e2e" text-anchor="start" dominant-baseline="central" >3.2</text>
<text x="57.30" y="705.00" font-family="Liberation Sans" font-size="21" fill="#111" text-anchor="start" dominant-baseline="central" letter-spacing="4.4">开孔尺寸</text>
<text x="106.80" y="732.00" font-family="Liberation Sans" font-size="23.5" fill="#111" text-anchor="middle" dominant-baseline="central" >Cut out</text>
<path d="M 428.5,576.3 L 510,576.3 A 21.8 21.8 0 0 1 531.8,598.1 L 531.8,631 Q 531.8,638.8 524,638.8 L 414.1,638.8 Q 406.3,638.8 406.3,631 L 406.3,598.1 A 21.8 21.8 0 0 1 428.5,576.3 Z" fill="#e6e6e6" stroke="#333" stroke-width="1.2" />
<path d="M 446,556 L 492,556 Q 495.5,556 496.3,559.6 L 500.3,576 L 500.3,589.4 A 21 21 0 0 0 500.3,625.2 L 500.3,634 Q 500.3,638.8 497,638.8 L 442,638.8 Q 438.5,638.8 438.5,634 L 438.5,625.2 A 21 21 0 0 0 438.5,589.4 L 438.5,576 L 442.5,559.6 Q 443,556 446,556 Z" fill="#e8e8e8" stroke="#333" stroke-width="1.3" />
<path d="M 446.5,559 L 491.5,559 Q 493,559 493.5,561 L 497.3,577 L 497.3,591 M 446.5,559 Q 445,559 444.5,561 L 441.5,577 L 441.5,591" fill="none" stroke="#555" stroke-width="0.9" />
<path d="M 441.5,592 A 18.5 18.5 0 0 1 441.5,622.6 M 497.3,592 A 18.5 18.5 0 0 0 497.3,622.6" fill="none" stroke="#555" stroke-width="0.9" />
<line x1="438.50" y1="638.80" x2="500.30" y2="638.80" stroke="#2a2a2a" stroke-width="1.8" />
<circle cx="427.30" cy="607.30" r="15.90" fill="url(#gRing)" stroke="#333" stroke-width="1.1" />
<circle cx="427.30" cy="607.30" r="8.00" fill="#fff" stroke="#2a2a2a" stroke-width="1.3" />
<circle cx="511.10" cy="607.30" r="15.90" fill="url(#gRing)" stroke="#333" stroke-width="1.1" />
<circle cx="511.10" cy="607.30" r="8.00" fill="#fff" stroke="#2a2a2a" stroke-width="1.3" />
<line x1="400.00" y1="607.30" x2="449.80" y2="607.30" stroke="#666666" stroke-width="0.8" />
<line x1="489.00" y1="607.30" x2="537.00" y2="607.30" stroke="#666666" stroke-width="0.8" />
<line x1="427.30" y1="585.00" x2="427.30" y2="662.00" stroke="#666666" stroke-width="1.0" />
<line x1="511.10" y1="585.00" x2="511.10" y2="662.00" stroke="#666666" stroke-width="1.0" />
<line x1="427.30" y1="656.20" x2="511.10" y2="656.20" stroke="#666666" stroke-width="1.0" />
<polygon points="427.30,656.20 440.30,654.00 440.30,658.40" fill="#1e1e1e"/>
<polygon points="511.10,656.20 498.10,658.40 498.10,654.00" fill="#1e1e1e"/>
<text x="468.00" y="649.40" font-family="Liberation Sans" font-size="12.5" fill="#2e2e2e" text-anchor="middle" dominant-baseline="central" >16</text>
<line x1="406.30" y1="639.00" x2="406.30" y2="678.00" stroke="#666666" stroke-width="1.0" />
<line x1="531.80" y1="639.00" x2="531.80" y2="678.00" stroke="#666666" stroke-width="1.0" />
<line x1="406.30" y1="672.40" x2="531.80" y2="672.40" stroke="#666666" stroke-width="1.0" />
<polygon points="406.30,672.40 419.30,670.20 419.30,674.60" fill="#1e1e1e"/>
<polygon points="531.80,672.40 518.80,674.60 518.80,670.20" fill="#1e1e1e"/>
<text x="471.30" y="665.60" font-family="Liberation Sans" font-size="12.5" fill="#2e2e2e" text-anchor="middle" dominant-baseline="central" >24</text>
<line x1="370.00" y1="576.30" x2="437.80" y2="576.30" stroke="#666666" stroke-width="1.0" />
<line x1="370.00" y1="638.80" x2="420.00" y2="638.80" stroke="#666666" stroke-width="1.0" />
<line x1="387.00" y1="607.30" x2="404.00" y2="607.30" stroke="#666666" stroke-width="1.0" />
<line x1="374.40" y1="576.30" x2="374.40" y2="638.80" stroke="#666666" stroke-width="1.0" />
<polygon points="374.40,576.30 376.60,589.30 372.20,589.30" fill="#1e1e1e"/>
<polygon points="374.40,638.80 372.20,625.80 376.60,625.80" fill="#1e1e1e"/>
<text x="367.50" y="609.10" font-family="Liberation Sans" font-size="12.5" fill="#2e2e2e" text-anchor="middle" dominant-baseline="central" transform="rotate(-90 367.50 609.10)" >12</text>
<line x1="391.40" y1="607.30" x2="391.40" y2="638.80" stroke="#666666" stroke-width="1.0" />
<polygon points="391.40,607.30 393.60,619.30 389.20,619.30" fill="#1e1e1e"/>
<polygon points="391.40,638.80 389.20,626.80 393.60,626.80" fill="#1e1e1e"/>
<text x="384.20" y="623.50" font-family="Liberation Sans" font-size="12.5" fill="#2e2e2e" text-anchor="middle" dominant-baseline="central" transform="rotate(-90 384.20 623.50)" >6</text>
<line x1="360.50" y1="558.40" x2="414.60" y2="558.40" stroke="#666666" stroke-width="0.9" />
<line x1="414.60" y1="558.40" x2="436.90" y2="640.70" stroke="#666666" stroke-width="0.8" />
<polygon points="424.40,598.90 419.08,587.88 423.73,586.68" fill="#1e1e1e"/>
<polygon points="429.90,616.80 435.67,627.59 431.07,628.98" fill="#1e1e1e"/>
<text x="364.70" y="551.50" font-family="Liberation Sans" font-size="12.5" fill="#2e2e2e" text-anchor="start" dominant-baseline="central" >2-</text>
<circle cx="382.60" cy="551.10" r="4.30" fill="none" stroke="#333" stroke-width="0.9" />
<line x1="380.30" y1="557.90" x2="385.30" y2="545.00" stroke="#333" stroke-width="0.9" />
<text x="388.50" y="551.50" font-family="Liberation Sans" font-size="12.5" fill="#2e2e2e" text-anchor="start" dominant-baseline="central" >3.2</text>
<rect x="580.30" y="576.00" width="20.80" height="63.20" rx="3" fill="url(#gBaseV)" stroke="#444" stroke-width="1.1" />
<rect x="582.00" y="578.00" width="8.00" height="59.00" rx="0" fill="#ffffff" stroke="none" stroke-width="1" opacity="0.35"/>
<path d="M 601,576 L 604.8,555.6 L 619,555.6 Q 622.5,556 622.5,559.5 L 622.5,639.2 L 601,639.2 Z" fill="#ececec" stroke="#444" stroke-width="1.1" />
<line x1="618.80" y1="557.00" x2="618.80" y2="639.00" stroke="#888" stroke-width="0.8" />
<path d="M 601,588.5 L 622.5,587 L 622.5,593 L 601,594.5 Z" fill="#6e6e6e" stroke="#2a2a2a" stroke-width="1.5" />
<rect x="601.00" y="594.50" width="21.50" height="27.50" rx="0" fill="url(#gMidV)" stroke="none" stroke-width="1" />
<line x1="601.00" y1="594.50" x2="622.50" y2="593.00" stroke="#555" stroke-width="0.7" />
<line x1="601.00" y1="622.50" x2="622.50" y2="624.00" stroke="#666" stroke-width="0.8" />
<line x1="601.00" y1="626.50" x2="622.50" y2="627.00" stroke="#666" stroke-width="0.8" />
<rect x="601.00" y="634.00" width="21.50" height="5.20" rx="0" fill="#7a7a7a" stroke="none" stroke-width="1" />
<line x1="601.00" y1="576.00" x2="601.00" y2="639.00" stroke="#444" stroke-width="1.1" />
<line x1="554.60" y1="655.60" x2="627.00" y2="655.60" stroke="#666666" stroke-width="1.0" />
<polygon points="580.70,655.60 567.70,657.80 567.70,653.40" fill="#1e1e1e"/>
<polygon points="601.50,655.60 614.50,653.40 614.50,657.80" fill="#1e1e1e"/>
<text x="590.90" y="648.70" font-family="Liberation Sans" font-size="12.5" fill="#2e2e2e" text-anchor="middle" dominant-baseline="central" >4</text>
<line x1="580.70" y1="639.00" x2="580.70" y2="677.30" stroke="#666666" stroke-width="1.0" />
<line x1="601.50" y1="639.00" x2="601.50" y2="664.00" stroke="#666666" stroke-width="1.0" />
<line x1="622.00" y1="639.00" x2="622.00" y2="677.30" stroke="#666666" stroke-width="1.0" />
<line x1="580.70" y1="672.20" x2="622.00" y2="672.20" stroke="#666666" stroke-width="1.0" />
<polygon points="580.70,672.20 593.70,670.00 593.70,674.40" fill="#1e1e1e"/>
<polygon points="622.00,672.20 609.00,674.40 609.00,670.00" fill="#1e1e1e"/>
<text x="600.90" y="665.00" font-family="Liberation Sans" font-size="12.5" fill="#2e2e2e" text-anchor="middle" dominant-baseline="central" >8</text>
<text x="519.20" y="707.70" font-family="Liberation Sans" font-size="23" fill="#111" text-anchor="middle" dominant-baseline="central" >固定扣</text>
</svg></body></html>
